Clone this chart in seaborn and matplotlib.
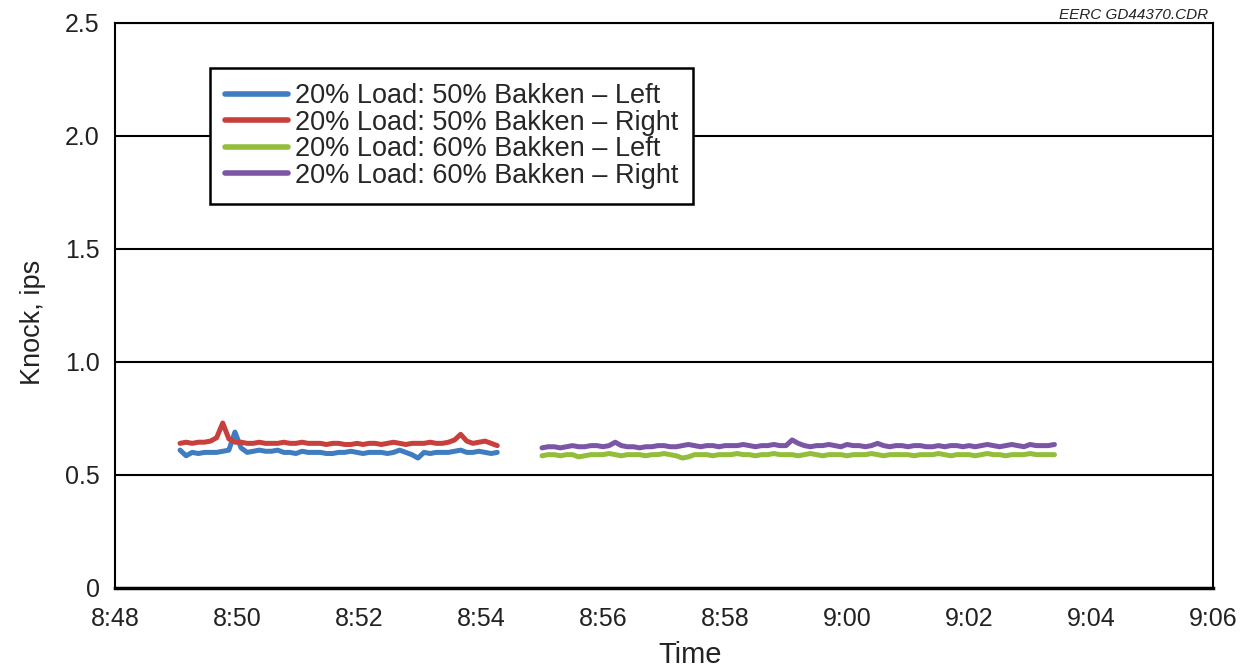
import numpy as np
import pandas as pd
import matplotlib
matplotlib.use("Agg")
import matplotlib.pyplot as plt
import matplotlib.dates as mdates
import seaborn as sns

# Knock readings sampled every 6 s
left_50 = [0.61, 0.585, 0.60, 0.595, 0.60, 0.60, 0.60, 0.605, 0.61, 0.69, 0.62, 0.60, 0.605,
           0.61, 0.605, 0.605, 0.61, 0.60, 0.60, 0.595, 0.605, 0.60, 0.60, 0.60, 0.595, 0.595,
           0.60, 0.60, 0.605, 0.60, 0.595, 0.60, 0.60, 0.60, 0.595, 0.60, 0.61, 0.60, 0.59,
           0.575, 0.60, 0.595, 0.60, 0.60, 0.60, 0.605, 0.61, 0.60, 0.60, 0.605, 0.60, 0.595, 0.60]
right_50 = [0.64, 0.645, 0.64, 0.645, 0.645, 0.65, 0.665, 0.73, 0.66, 0.645, 0.645, 0.64, 0.64,
            0.645, 0.64, 0.64, 0.64, 0.645, 0.64, 0.64, 0.645, 0.64, 0.64, 0.64, 0.635, 0.64,
            0.64, 0.635, 0.635, 0.64, 0.635, 0.64, 0.64, 0.635, 0.64, 0.645, 0.64, 0.635, 0.64,
            0.64, 0.64, 0.645, 0.64, 0.64, 0.645, 0.655, 0.68, 0.65, 0.64, 0.645, 0.65, 0.64, 0.63]
left_60 = [0.585, 0.59, 0.59, 0.585, 0.59, 0.59, 0.58, 0.585, 0.59, 0.59, 0.59, 0.595, 0.59,
           0.585, 0.59, 0.59, 0.59, 0.585, 0.59, 0.59, 0.595, 0.59, 0.585, 0.575, 0.58, 0.59,
           0.59, 0.59, 0.585, 0.59, 0.59, 0.59, 0.595, 0.59, 0.59, 0.585, 0.59, 0.59, 0.595,
           0.59, 0.59, 0.59, 0.585, 0.59, 0.595, 0.59, 0.585, 0.59, 0.59, 0.59, 0.585, 0.59,
           0.59, 0.59, 0.595, 0.59, 0.585, 0.59, 0.59, 0.59, 0.59, 0.585, 0.59, 0.59, 0.59,
           0.595, 0.59, 0.585, 0.59, 0.59, 0.59, 0.585, 0.59, 0.595, 0.59, 0.59, 0.585, 0.59,
           0.59, 0.59, 0.595, 0.59, 0.59, 0.59, 0.59]
right_60 = [0.62, 0.625, 0.625, 0.62, 0.625, 0.63, 0.625, 0.625, 0.63, 0.63, 0.625, 0.63, 0.645,
            0.63, 0.625, 0.625, 0.62, 0.625, 0.625, 0.63, 0.63, 0.625, 0.625, 0.63, 0.635, 0.63,
            0.625, 0.63, 0.63, 0.625, 0.63, 0.63, 0.63, 0.635, 0.63, 0.625, 0.63, 0.63, 0.635,
            0.63, 0.63, 0.655, 0.64, 0.63, 0.625, 0.63, 0.63, 0.635, 0.63, 0.625, 0.635, 0.63,
            0.63, 0.625, 0.63, 0.64, 0.63, 0.625, 0.63, 0.63, 0.625, 0.63, 0.63, 0.625, 0.625,
            0.63, 0.625, 0.63, 0.63, 0.625, 0.63, 0.625, 0.63, 0.635, 0.63, 0.625, 0.63, 0.635,
            0.63, 0.625, 0.635, 0.63, 0.63, 0.63, 0.635]

start_50 = "2000-01-01 08:49:04"
start_60 = "2000-01-01 08:55:00"
labels = ["20% Load: 50% Bakken \u2013 Left", "20% Load: 50% Bakken \u2013 Right",
          "20% Load: 60% Bakken \u2013 Left", "20% Load: 60% Bakken \u2013 Right"]
colors = ["#3f7cc0", "#c8403c", "#93bd3a", "#7b56a6"]
y_ticks = [0, 0.5, 1.0, 1.5, 2.0, 2.5]
x_ticks = ["08:48", "08:50", "08:52", "08:54", "08:56", "08:58", "09:00", "09:02", "09:04", "09:06"]

frames = []
for vals, start, lab in [(left_50, start_50, labels[0]), (right_50, start_50, labels[1]),
                         (left_60, start_60, labels[2]), (right_60, start_60, labels[3])]:
    t = pd.date_range(start, periods=len(vals), freq="6s")
    frames.append(pd.DataFrame({"Time": t, "Knock": vals, "Series": lab}))
df = pd.concat(frames, ignore_index=True)

sns.set_style("white")
plt.rcParams["font.family"] = ["Liberation Sans", "DejaVu Sans"]

fig = plt.figure(figsize=(12.55, 6.7), dpi=100)
ax = fig.add_axes([0.0916, 0.1224, 0.875, 0.8433])

sns.lineplot(data=df, x="Time", y="Knock", hue="Series", hue_order=labels,
             palette=colors, linewidth=3.6, ax=ax, estimator=None, sort=False)

ax.set_ylim(0, 2.5)
ax.set_yticks(y_ticks)
ax.set_yticklabels(["0", "0.5", "1.0", "1.5", "2.0", "2.5"])
xt = [pd.Timestamp("2000-01-01 " + s) for s in x_ticks]
ax.set_xlim(xt[0], xt[-1])
ax.set_xticks(xt)
ax.xaxis.set_major_formatter(mdates.DateFormatter("%-H:%M"))

for yv in y_ticks[1:]:
    ax.axhline(yv, color="black", linewidth=1.5, zorder=1)

for s in ax.spines.values():
    s.set_color("black")
    s.set_linewidth(1.5)
ax.spines["bottom"].set_linewidth(2.5)

ax.tick_params(axis="both", which="major", direction="out", length=6, width=1.2,
               color="black", labelsize=18, labelcolor="#222222")
ax.tick_params(axis="x", pad=8)
ax.tick_params(axis="y", pad=5)
ax.set_xlabel("Time", fontsize=21, color="#222222", va="center")
ax.xaxis.set_label_coords(0.524, -0.118)
ax.set_ylabel("Knock, ips", fontsize=19.5, color="#222222", va="center")
ax.yaxis.set_label_coords(-0.075, 0.47)

leg = ax.legend(loc="upper left", bbox_to_anchor=(0.087, 0.92), fontsize=19.5,
                frameon=True, fancybox=False, edgecolor="black", framealpha=1,
                handlelength=2.3, handletextpad=0.26, labelspacing=0.02,
                borderpad=0.55, borderaxespad=0)
leg.get_frame().set_linewidth(1.8)
for h in leg.get_lines():
    h.set_linewidth(4)

fig.text(0.963, 0.978, "EERC GD44370.CDR", ha="right", va="center",
         fontsize=11, style="italic", color="#222222")

fig.savefig("out.png", dpi=100)
